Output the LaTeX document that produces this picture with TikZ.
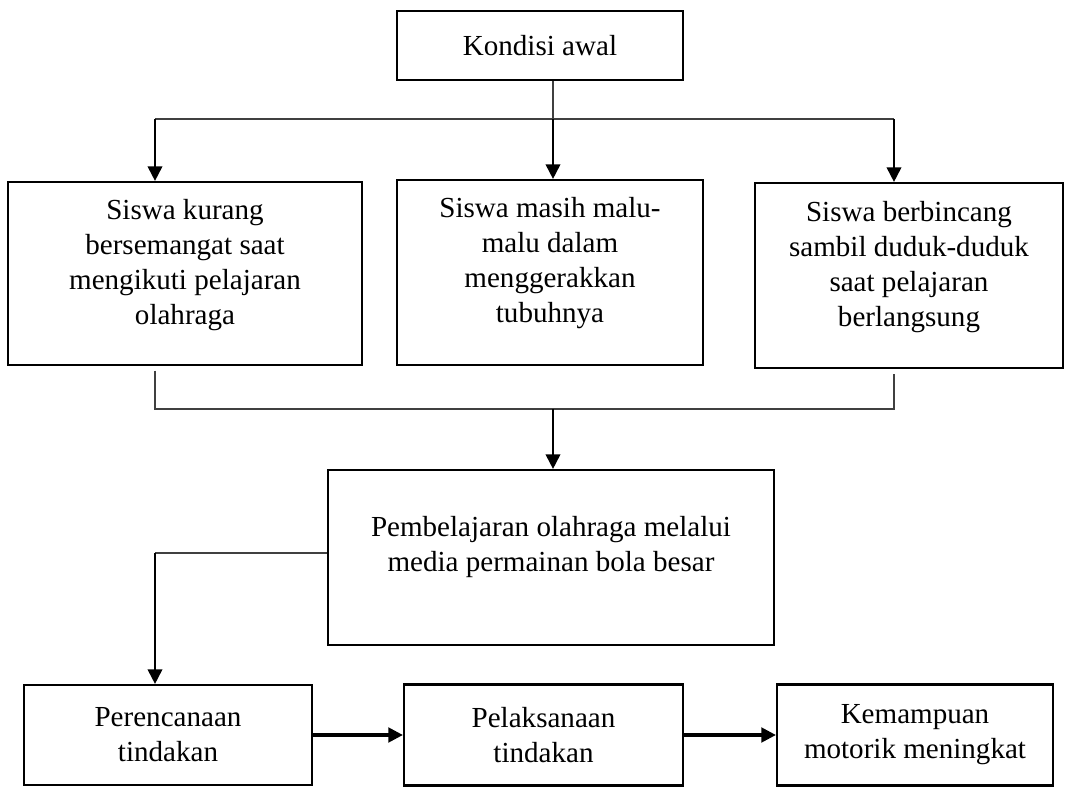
\documentclass[tikz,border=0pt]{standalone}
\usepackage{fontspec}
\setmainfont{Liberation Serif}
\usetikzlibrary{arrows.meta}
\def\lift#1{\rule[-#1]{0pt}{#1}}% extra depth on the last line, text sits higher

\begin{document}
\begin{tikzpicture}[x=0.75pt,y=-0.75pt,
    box/.style={draw,line width=1.6pt,align=center,inner sep=0pt},
    link/.style={line width=0.8pt,draw=black!75},
    flow/.style={line width=1.4pt,-{Triangle[length=11pt,width=11pt]}},
    bigflow/.style={line width=2.3pt,-{Triangle[length=11pt,width=11pt]}}]%
\fontsize{21.8pt}{26.25pt}\selectfont%
\useasboundingbox (0,0) rectangle (1065,787);
  % top box
  \node[box,minimum width=214.5pt,minimum height=51.75pt] (kondisi) at (540,45.5) {Kondisi awal};
  % three conditions
  \node[box,minimum width=265.5pt,minimum height=137.25pt] (kurang) at (185,273.5)
    {Siswa kurang\\bersemangat saat\\mengikuti pelajaran\\olahraga\lift{17pt}};
  \node[box,minimum width=229.5pt,minimum height=138.75pt] (malu) at (550,272.5)
    {Siswa masih malu-\\malu dalam\\menggerakkan\\tubuhnya\lift{19pt}};
  \node[box,minimum width=231pt,minimum height=138.75pt] (bincang) at (909,275.5)
    {Siswa berbincang\\sambil duduk-duduk\\saat pelajaran\\berlangsung\lift{18pt}};
  % action
  \node[box,minimum width=334.5pt,minimum height=131.25pt] (pemb) at (551,557.5)
    {Pembelajaran olahraga melalui\\media permainan bola besar\lift{21pt}};
  % bottom row
  \node[box,minimum width=216pt,minimum height=75pt] (rencana) at (168,735) {Perencanaan\\tindakan};
  \node[box,minimum width=209.25pt,minimum height=75.75pt] (laksana) at (543.5,735) {Pelaksanaan\\tindakan};
  \node[box,minimum width=207pt,minimum height=75.75pt] (mampu) at (915,735) {Kemampuan\\motorik meningkat};

  % split below the top box
  \coordinate (fork) at (553,119);
  \coordinate (forkL) at (155,119);
  \coordinate (forkR) at (894,119);
  \draw[link] (kondisi.south -| fork) -- (fork);
  \draw[link] (forkL) -- (forkR);
  \draw[flow] (forkL) -- (forkL |- kurang.north);
  \draw[flow] (fork) -- (fork |- malu.north);
  \draw[flow] (forkR) -- (forkR |- bincang.north);

  % join towards the action box
  \coordinate (join) at (553,409);
  \coordinate (joinL) at (155,409);
  \coordinate (joinR) at (894,409);
  \draw[link,shorten <=3.5pt,shorten >=3.5pt] (joinL |- kurang.south) -- (joinL) -- (joinR) -- (joinR |- bincang.south);
  \draw[flow] (join) -- (join |- pemb.north);

  % down to the cycle
  \coordinate (turn) at (155,553);
  \draw[link] (pemb.west |- turn) -- (turn);
  \draw[flow] (turn) -- (turn |- rencana.north);
  \draw[bigflow] (rencana) -- (laksana);
  \draw[bigflow] (laksana) -- (mampu);
\end{tikzpicture}
\end{document}
